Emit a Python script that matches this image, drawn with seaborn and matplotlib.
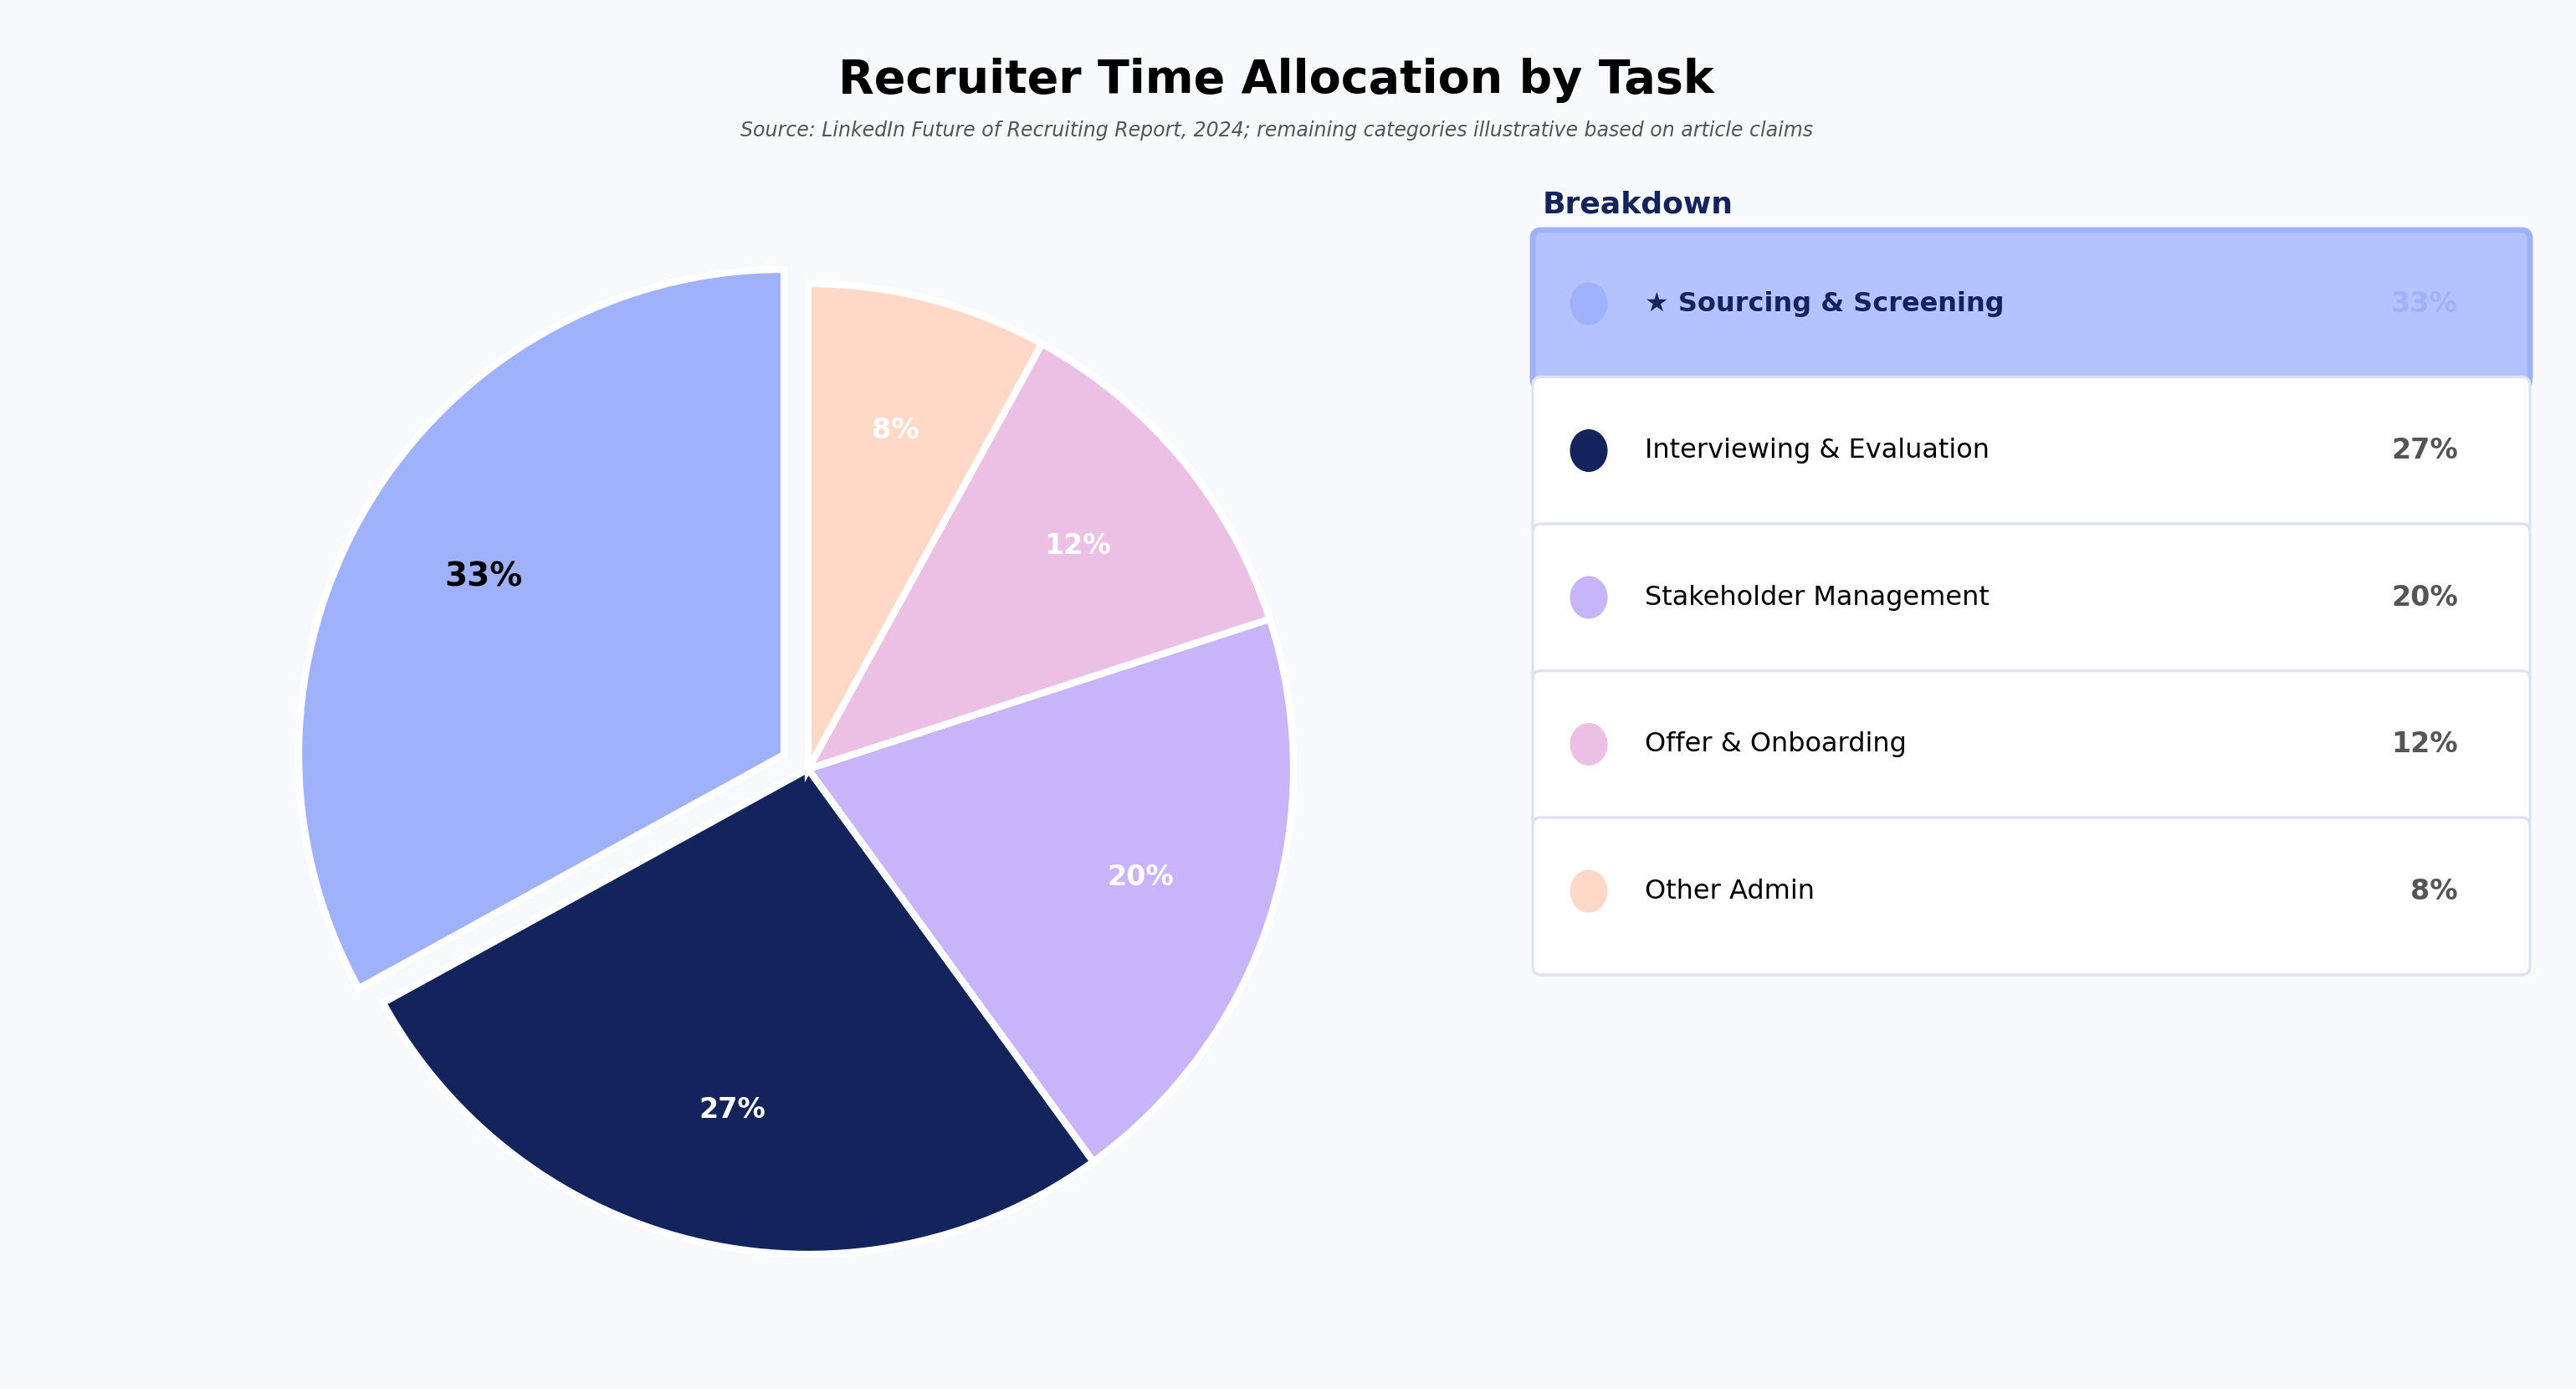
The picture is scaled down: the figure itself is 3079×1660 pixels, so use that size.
import matplotlib
matplotlib.use("Agg")
import matplotlib.pyplot as plt
from matplotlib.patches import FancyBboxPatch, Ellipse
import seaborn as sns

# data
tasks = ["Sourcing & Screening", "Interviewing & Evaluation", "Stakeholder Management",
         "Offer & Onboarding", "Other Admin"]
shares = [33, 27, 20, 12, 8]
colors = ["#a0b1fc", "#13235b", "#c8b4f8", "#ecc0e4", "#ffd8c8"]
highlight = 0  # index of the starred task

bg = "#f8f9fc"
navy = "#13235b"

sns.set_theme(style="white")
plt.rcParams['font.family'] = ['DejaVu Sans']

W, H, DPI = 3079, 1660, 200
fig = plt.figure(figsize=(W / DPI, H / DPI), dpi=DPI, facecolor=bg)

# pie (left)
cx, cy, r = 966, 919, 580
side = 2.5 * r
ax = fig.add_axes([(cx - side / 2) / W, 1 - (cy + side / 2) / H, side / W, side / H])
ax.set_facecolor(bg)
explode = [0.058 if i == highlight else 0 for i in range(len(shares))]
wedges, texts, autotexts = ax.pie(shares, colors=colors, startangle=90, explode=explode,
                                  autopct='%1.0f%%', pctdistance=0.72,
                                  wedgeprops=dict(edgecolor="white", linewidth=3),
                                  textprops=dict(color="white", fontsize=12, fontweight="bold"))
autotexts[highlight].set_color("black")
autotexts[highlight].set_fontsize(14)
ax.set_aspect("equal")

# titles
fig.text(0.4955, 0.942, "Recruiter Time Allocation by Task", ha="center", va="center",
         fontsize=20, fontweight="bold", color="black")
fig.text(0.4955, 0.906, "Source: LinkedIn Future of Recruiting Report, 2024; remaining categories illustrative based on article claims",
         ha="center", va="center", fontsize=8.5, style="italic", color="#555555")

# breakdown panel (right), axes in pixel units
x0, x1, y0, y1 = 1822, 3034, 200, 1190
pax = fig.add_axes([x0 / W, 1 - y1 / H, (x1 - x0) / W, (y1 - y0) / H])
pax.set_xlim(x0, x1)
pax.set_ylim(y1, y0)
pax.axis("off")

pax.text(1844, 244, "Breakdown", ha="left", va="center", fontsize=13,
         fontweight="bold", color=navy)

row_top, row_step, row_h = 275, 175.5, 188
left, right = 1832, 3024
for i, (task, val, col) in enumerate(zip(tasks, shares, colors)):
    top = row_top + i * row_step
    hi = i == highlight
    box = FancyBboxPatch((left, top), right - left, row_h,
                         boxstyle="round,pad=0,rounding_size=10",
                         facecolor="#b4c3fd" if hi else "white",
                         edgecolor=col if hi else "#dfe3f0",
                         linewidth=2.5 if hi else 1.2, zorder=1 + i)
    pax.add_patch(box)
    yc = top + 88
    pax.add_patch(Ellipse((1899, yc), 45, 51, facecolor=col, edgecolor="none", zorder=10))
    pax.text(1966, yc, ("★ " + task) if hi else task, ha="left", va="center",
             fontsize=11.5, fontweight="bold" if hi else "normal",
             color=navy if hi else "black", zorder=10)
    pax.text(2938, yc, f"{val}%", ha="right", va="center", fontsize=12,
             fontweight="bold", color=col if hi else "#555555", zorder=10)

fig.savefig("out.png", dpi=DPI, facecolor=bg)
